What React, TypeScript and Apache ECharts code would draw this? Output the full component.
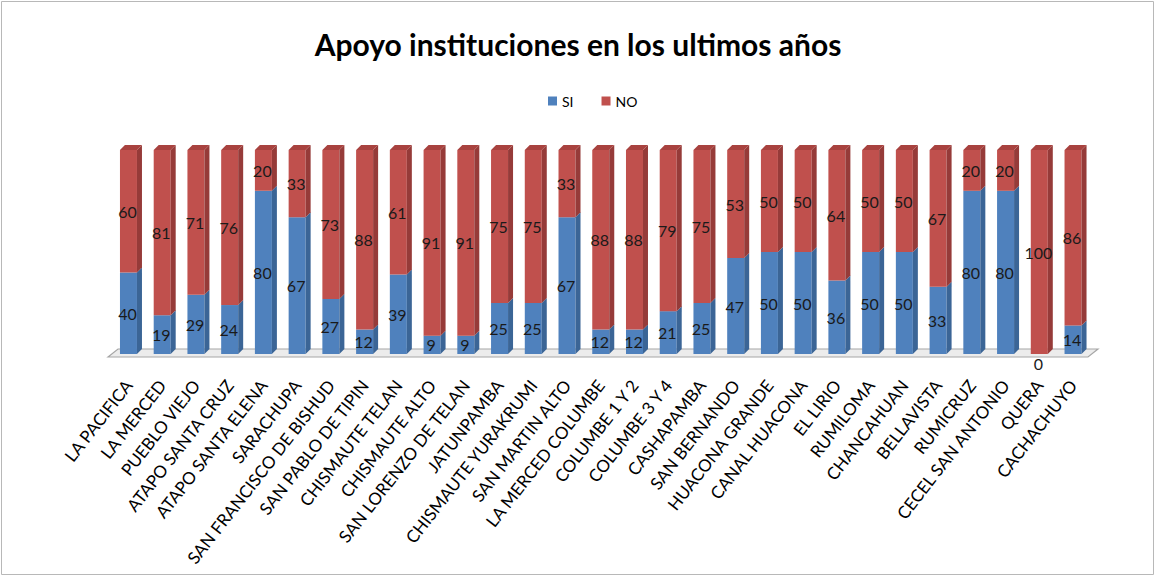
import React, { useEffect, useRef } from "react";
import * as echarts from "echarts";

const categories = [
  "LA PACIFICA", "LA MERCED", "PUEBLO VIEJO", "ATAPO SANTA CRUZ", "ATAPO SANTA ELENA",
  "SARACHUPA", "SAN FRANCISCO DE BISHUD", "SAN PABLO DE TIPIN", "CHISMAUTE TELAN",
  "CHISMAUTE ALTO", "SAN LORENZO DE TELAN", "JATUNPAMBA", "CHISMAUTE YURAKRUMI",
  "SAN MARTIN ALTO", "LA MERCED COLUMBE", "COLUMBE 1 Y 2", "COLUMBE 3 Y 4", "CASHAPAMBA",
  "SAN BERNANDO", "HUACONA GRANDE", "CANAL HUACONA", "EL LIRIO", "RUMILOMA", "CHANCAHUAN",
  "BELLAVISTA", "RUMICRUZ", "CECEL SAN ANTONIO", "QUERA", "CACHACHUYO",
];
const siValues = [40, 19, 29, 24, 80, 67, 27, 12, 39, 9, 9, 25, 25, 67, 12, 12, 21, 25, 47, 50, 50, 36, 50, 50, 33, 80, 80, 0, 14];
const noValues = [60, 81, 71, 76, 20, 33, 73, 88, 61, 91, 91, 75, 75, 33, 88, 88, 79, 75, 53, 50, 50, 64, 50, 50, 67, 20, 20, 100, 86];

const BLUE = "#4F81BD";
const BLUE_SIDE = "#3B6596";
const RED = "#C0504D";
const RED_SIDE = "#963B39";
const RED_TOP = "#A8423F";

function makeRender(front: string, side: string, top: string | null, value: number[]) {
  return (params: any, api: any) => {
    const idx = api.value(0);
    const start = api.value(1);
    const end = api.value(2);
    const pBot = api.coord([idx, start]);
    const pTop = api.coord([idx, end]);
    const w = 17;
    const d = 5;
    const x0 = pBot[0] - w / 2;
    const x1 = x0 + w;
    const yB = pBot[1];
    const yT = pTop[1];
    const children: any[] = [
      { type: "rect", shape: { x: x0, y: yT, width: w, height: yB - yT }, style: { fill: front } },
      {
        type: "polygon",
        shape: { points: [[x1, yT], [x1 + d, yT - d], [x1 + d, yB - d], [x1, yB]] },
        style: { fill: side },
      },
    ];
    if (top) {
      children.push({
        type: "polygon",
        shape: { points: [[x0, yT], [x0 + d, yT - d], [x1 + d, yT - d], [x1, yT]] },
        style: { fill: top },
      });
    }
    const v = value[params.dataIndex];
    const ly = v === 0 ? yB + 9 : (yB + yT) / 2;
    children.push({
      type: "text",
      x: pBot[0] - 1,
      y: ly,
      style: {
        text: String(v),
        fill: "#1a1a1a",
        font: "16px Lato",
        align: "center",
        verticalAlign: "middle",
      },
    });
    return { type: "group", children };
  };
}

export default function App() {
  const ref = useRef<HTMLDivElement>(null);
  useEffect(() => {
    document.body.style.margin = "0";
    const chart = echarts.init(ref.current!, null, { renderer: "svg" });
    const siData = siValues.map((v, i) => [i, 0, v]);
    const noData = noValues.map((v, i) => [i, siValues[i], siValues[i] + v]);
    chart.setOption({
      animation: false,
      backgroundColor: "#ffffff",
      title: {
        text: "Apoyo instituciones en los ultimos años",
        left: "center",
        top: 24,
        textStyle: { fontFamily: "Lato", fontSize: 30, fontWeight: "bold", color: "#000" },
      },
      legend: {
        top: 89,
        left: 543,
        itemWidth: 9,
        itemHeight: 9,
        itemGap: 28,
        icon: "rect",
        textStyle: { fontFamily: "Lato", fontSize: 14, color: "#000" },
        data: [
          { name: "SI", itemStyle: { color: BLUE } },
          { name: "NO", itemStyle: { color: RED } },
        ],
      },
      grid: { left: 111.6, width: 978.3, top: 150, bottom: 223 },
      xAxis: {
        type: "category",
        data: categories,
        axisLine: { show: false },
        axisTick: { show: false },
        axisLabel: {
          interval: 0,
          rotate: 52,
          margin: 28,
          fontFamily: "Lato",
          fontSize: 17,
          color: "#000",
        },
      },
      yAxis: {
        type: "value",
        min: 0,
        max: 100,
        show: false,
      },
      graphic: [
        {
          type: "rect",
          shape: { x: 1.5, y: 1.5, width: 1152, height: 573 },
          style: { fill: "none", stroke: "#b8b8b8", lineWidth: 1 },
          z: -10,
        },
        {
          type: "polygon",
          shape: { points: [[108, 357], [118, 349], [1098, 349], [1088, 357]] },
          style: { fill: "#ececec", stroke: "#a6a6a6", lineWidth: 1.2 },
          z: -5,
        },
      ],
      series: [
        {
          name: "SI",
          type: "custom",
          color: BLUE,
          renderItem: makeRender(BLUE, BLUE_SIDE, null, siValues),
          encode: { x: 0, y: [1, 2] },
          data: siData,
          z: 2,
        },
        {
          name: "NO",
          type: "custom",
          color: RED,
          renderItem: makeRender(RED, RED_SIDE, RED_TOP, noValues),
          encode: { x: 0, y: [1, 2] },
          data: noData,
          z: 3,
        },
      ],
    });
    return () => chart.dispose();
  }, []);
  return <div ref={ref} style={{ width: 1156, height: 577 }} />;
}
